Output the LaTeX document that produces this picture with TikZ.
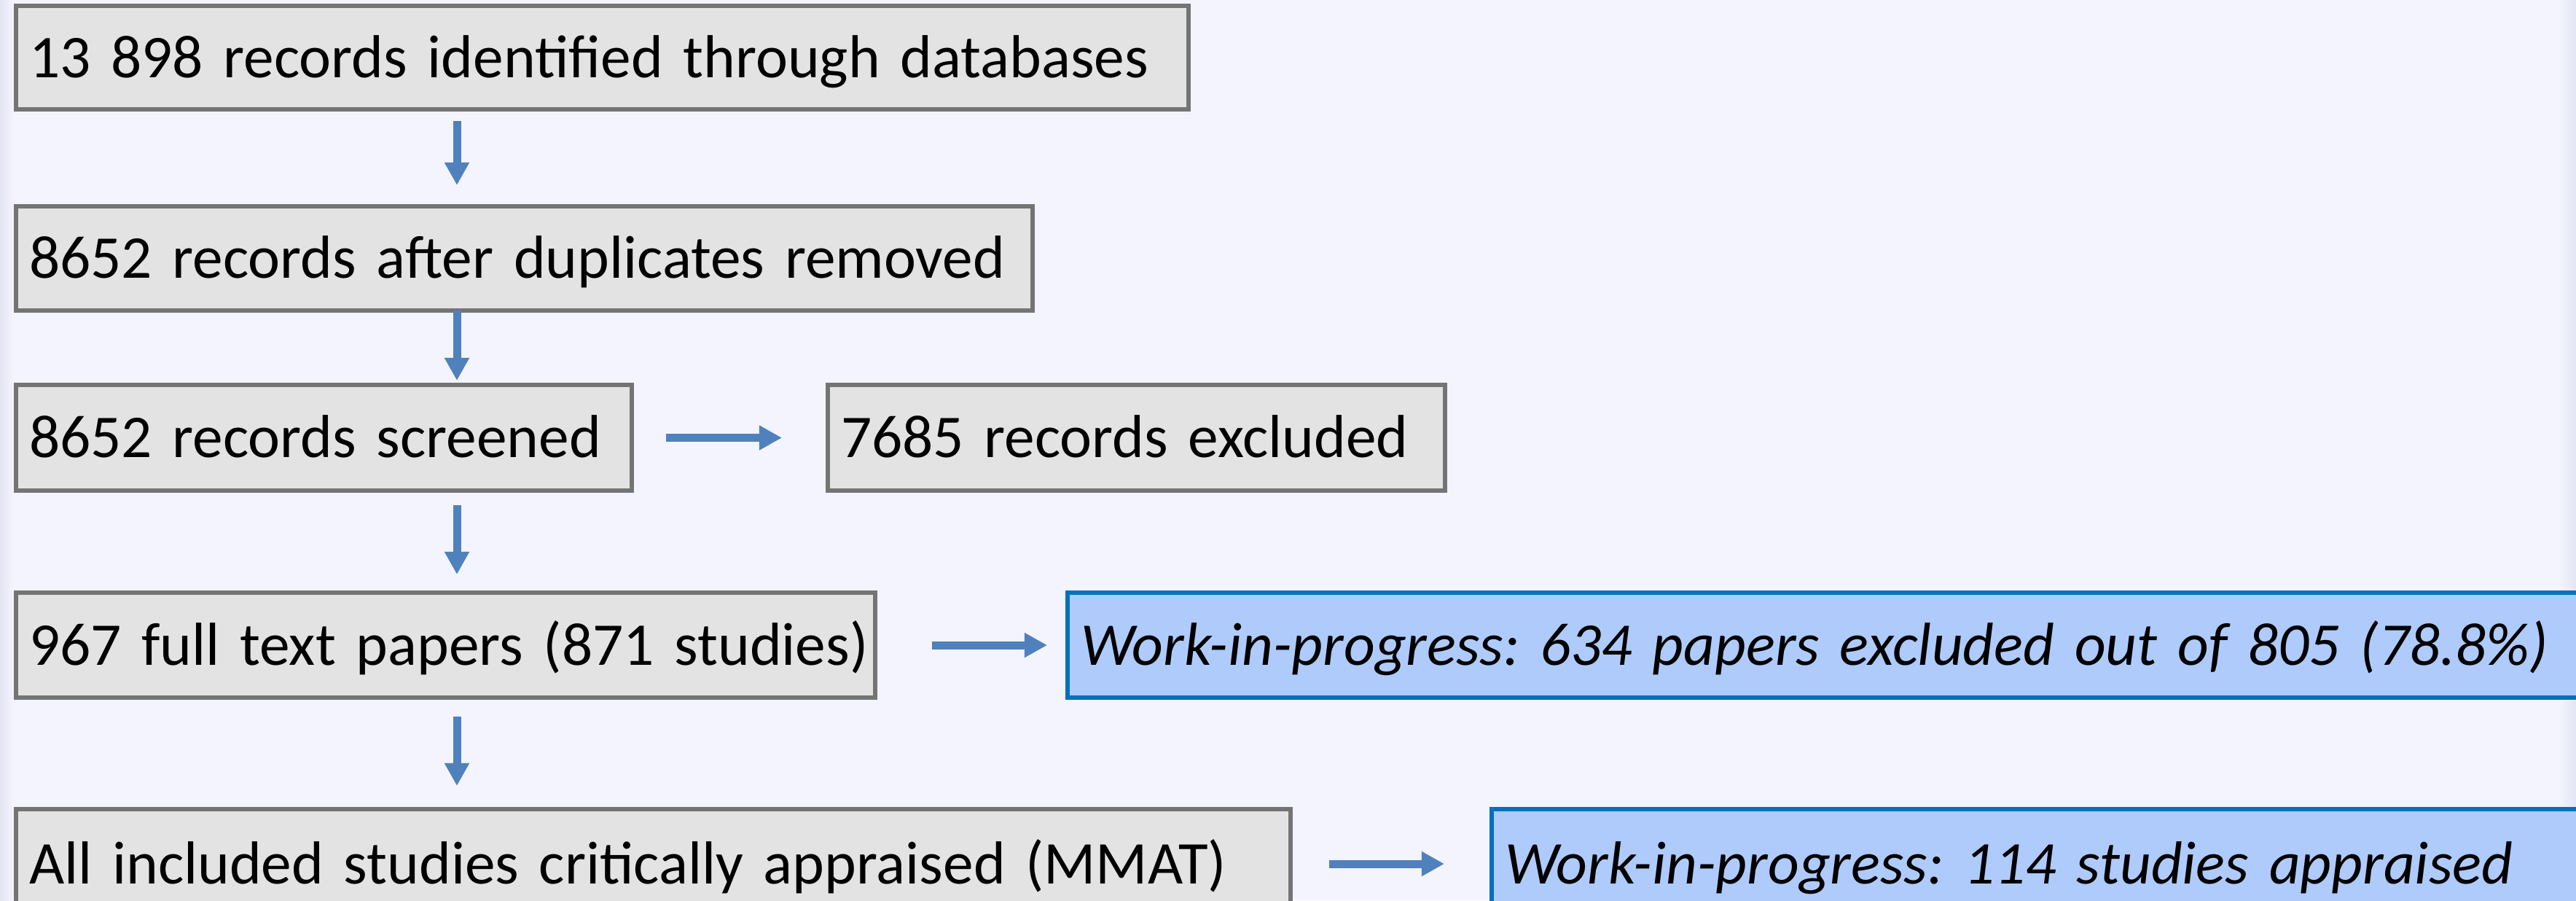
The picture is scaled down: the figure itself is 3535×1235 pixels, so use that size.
\documentclass[tikz,border=0pt]{standalone}
\usepackage{fontspec}
\setmainfont{Carlito}
\frenchspacing
\usetikzlibrary{arrows.meta}
\definecolor{bgc}{HTML}{F3F4FD}
\definecolor{edgec}{HTML}{E4E5F4}
\definecolor{boxfill}{HTML}{E3E3E3}
\definecolor{boxline}{HTML}{747474}
\definecolor{wipfill}{HTML}{AFCBFC}
\definecolor{wipline}{HTML}{0070C0}
\definecolor{arrc}{HTML}{4F81BD}
\begin{document}
\begin{tikzpicture}[x=0.01cm,y=-0.01cm,
  gbox/.style={draw=boxline, fill=boxfill, line width=0.06cm, outer sep=0pt,
    inner xsep=0.18cm, inner ysep=0pt, anchor=north west, align=left,
    text height=0.74cm, text depth=0.2cm,
    font=\fontsize{23.7}{28}\selectfont},
  wbox/.style={gbox, draw=wipline, fill=wipfill,
    font=\fontsize{23.7}{28}\selectfont\itshape},
  arr/.style={draw=arrc, line width=0.11cm, -{Triangle[length=0.31cm,width=0.32cm]}}]
\useasboundingbox (0,0) rectangle (3535,1235);
\clip (0,0) rectangle (3535,1235);
\fill[bgc] (0,0) rectangle (3535,1235);
\shade[left color=edgec, right color=bgc] (0,0) rectangle (18,1235);
\shade[left color=bgc, right color=edgec] (3512,0) rectangle (3535,1235);

\node[gbox, minimum width=16.08cm, text width=15.72cm, minimum height=1.42cm] (b1) at (22,8) {\mbox{13 898 records identified through databases}};
\node[gbox, minimum width=13.94cm, text width=13.58cm, minimum height=1.43cm] (b2) at (22,283) {\mbox{8652 records after duplicates removed}};
\node[gbox, minimum width=8.45cm, text width=8.09cm, minimum height=1.45cm] (b3) at (22,528) {\mbox{8652 records screened}};
\node[gbox, minimum width=8.46cm, text width=8.10cm, minimum height=1.45cm] (b4) at (1136,528) {\mbox{7685 records excluded}};
\node[gbox, minimum width=11.78cm, text width=11.42cm, minimum height=1.44cm] (b5) at (22,813) {\mbox{967 full text papers (871 studies)}};
\node[wbox, minimum width=22.00cm, text width=21.64cm, minimum height=1.44cm] (w1) at (1465,813) {\mbox{Work-in-progress: 634 papers excluded out of 805 (78.8\%)}};
\node[gbox, minimum width=17.48cm, text width=17.12cm, minimum height=1.50cm] (b6) at (22,1110) {\mbox{All included studies critically appraised (MMAT)}};
\node[wbox, minimum width=17.00cm, text width=16.64cm, minimum height=1.50cm] (w2) at (2047,1110) {\mbox{Work-in-progress: 114 studies appraised}};

\coordinate (ax) at (627,0);
\draw[arr, shorten <=0.16cm, shorten >=0.29cm] (b1.south -| ax) -- (b2.north -| ax);
\draw[arr, shorten <=0cm, shorten >=0.06cm] (b2.south -| ax) -- (b3.north -| ax);
\draw[arr, shorten <=0.20cm, shorten >=0.25cm] (b3.south -| ax) -- (b5.north -| ax);
\draw[arr, shorten <=0.26cm, shorten >=0.32cm] (b5.south -| ax) -- (b6.north -| ax);
\draw[arr, shorten <=0.46cm, shorten >=0.63cm] (b3.east) -- (b4.west);
\draw[arr, shorten <=0.78cm, shorten >=0.28cm] (b5.east) -- (w1.west);
\draw[arr, shorten <=0.53cm, shorten >=0.65cm] (b6.east) -- (w2.west);
\end{tikzpicture}
\end{document}
